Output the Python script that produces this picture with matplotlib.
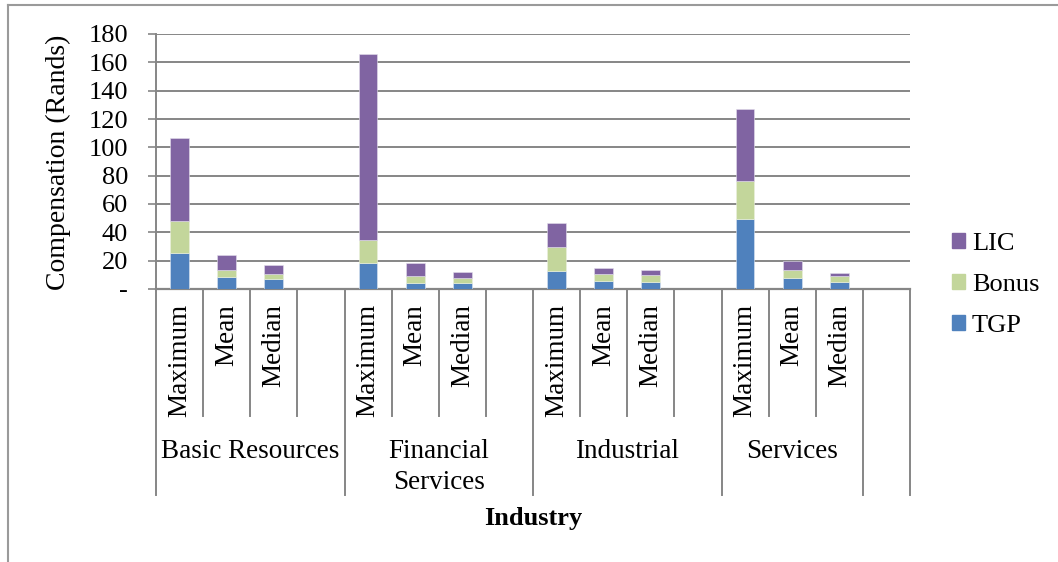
import numpy as np
import matplotlib
matplotlib.use('Agg')
import matplotlib.pyplot as plt
from matplotlib.lines import Line2D
from matplotlib.patches import Patch

# Compensation components per industry and statistic
industries = ['Basic Resources', 'Financial\nServices', 'Industrial', 'Services']
stats = ['Maximum', 'Mean', 'Median']
tgp = [25.5, 8.5, 7.1, 18.4, 4.5, 4.3, 13.0, 5.4, 5.2, 49.4, 8.0, 5.2]
bonus = [22.2, 5.2, 3.8, 16.3, 4.7, 3.7, 16.3, 5.2, 4.5, 27.1, 5.5, 4.0]
lic = [58.6, 10.6, 5.9, 131.1, 9.2, 4.0, 17.0, 4.1, 3.5, 50.6, 6.6, 2.1]
yticks = [0, 20, 40, 60, 80, 100, 120, 140, 160, 180]

plt.rcParams['font.family'] = 'Liberation Serif'
W, H = 1058, 562
fig = plt.figure(figsize=(W / 100, H / 100), dpi=100)
ax = fig.add_axes([156 / W, 1 - 289 / H, 754 / W, 255 / H])

grey = '#868686'
c_tgp, c_bonus, c_lic = '#4F81BD', '#C3D69B', '#8064A2'

# each industry takes 4 slots (3 stats + a blank); services has no blank
# slot, the last slot is a separate empty category
slot = []
for g in range(len(industries)):
    for s in range(len(stats)):
        slot.append(g * 4 + s)
slot = np.array(slot)
tgp, bonus, lic = np.array(tgp), np.array(bonus), np.array(lic)

bw = 0.4
ax.bar(slot, tgp, bw, color=c_tgp, edgecolor='#DCE6F2', linewidth=0.4, zorder=3)
ax.bar(slot, bonus, bw, bottom=tgp, color=c_bonus, edgecolor='#EBF1DE', linewidth=0.4, zorder=3)
ax.bar(slot, lic, bw, bottom=tgp + bonus, color=c_lic, edgecolor='#E4DFEC', linewidth=0.4, zorder=3)

ax.set_xlim(-0.5, 15.5)
ax.set_ylim(0, 180)
ax.set_yticks(yticks)
ax.set_yticklabels(['-'] + [str(v) for v in yticks[1:]], fontsize=19)
ax.tick_params(axis='y', length=6, width=1.2, color=grey, pad=14)
ax.set_xticks([])
ax.grid(axis='y', color=grey, linewidth=1.4, zorder=0)
for side in ['top', 'right']:
    ax.spines[side].set_visible(False)
ax.spines['left'].set_color(grey)
ax.spines['left'].set_linewidth(1.4)
ax.spines['bottom'].set_color(grey)
ax.spines['bottom'].set_linewidth(1.6)

# category separators below the axis
tr = ax.get_xaxis_transform()
inner_end = (289 - 416) / 255
outer_end = (289 - 495) / 255
for b in range(17):
    xb = b - 0.5
    end = outer_end if b in (0, 4, 8, 12, 15, 16) else inner_end
    ax.plot([xb, xb], [0, end], transform=tr, color=grey, lw=1.4,
            clip_on=False, zorder=1)

# statistic labels
for x in slot:
    ax.text(x, (289 - 304) / 255, stats[x % 4], transform=tr, rotation=90,
            ha='center', va='top', fontsize=19.5)

# industry labels
group_centres = [1.5, 5.5, 9.5, 13.0]
for name, xc in zip(industries, group_centres):
    ax.text(xc, (289 - 439) / 255, name, transform=tr, ha='center',
            va='top', fontsize=19.5, linespacing=1.3)

fig.text(533 / W, 1 - 518 / H, 'Industry', ha='center', va='center',
         fontsize=19, fontweight='bold')
fig.text(58 / W, 1 - 162 / H, 'Compensation (Rands)', rotation=90,
         ha='center', va='center', fontsize=20)

handles = [Patch(color=c_lic, label='LIC'),
           Patch(color=c_bonus, label='Bonus'),
           Patch(color=c_tgp, label='TGP')]
fig.legend(handles=handles, loc='center left',
           bbox_to_anchor=(952 / W, 1 - 285 / H), frameon=False,
           fontsize=19, handlelength=0.5, handleheight=0.5,
           handletextpad=0.25, labelspacing=0.72, borderpad=0,
           borderaxespad=0)

# chart area border
fig.add_artist(Line2D([8 / W, 8 / W], [0, 1 - 5 / H], color='#9A9A9A', lw=1.5))
fig.add_artist(Line2D([8 / W, 1], [1 - 5 / H, 1 - 5 / H], color='#9A9A9A', lw=1.5))

fig.savefig('out.png', dpi=100)
